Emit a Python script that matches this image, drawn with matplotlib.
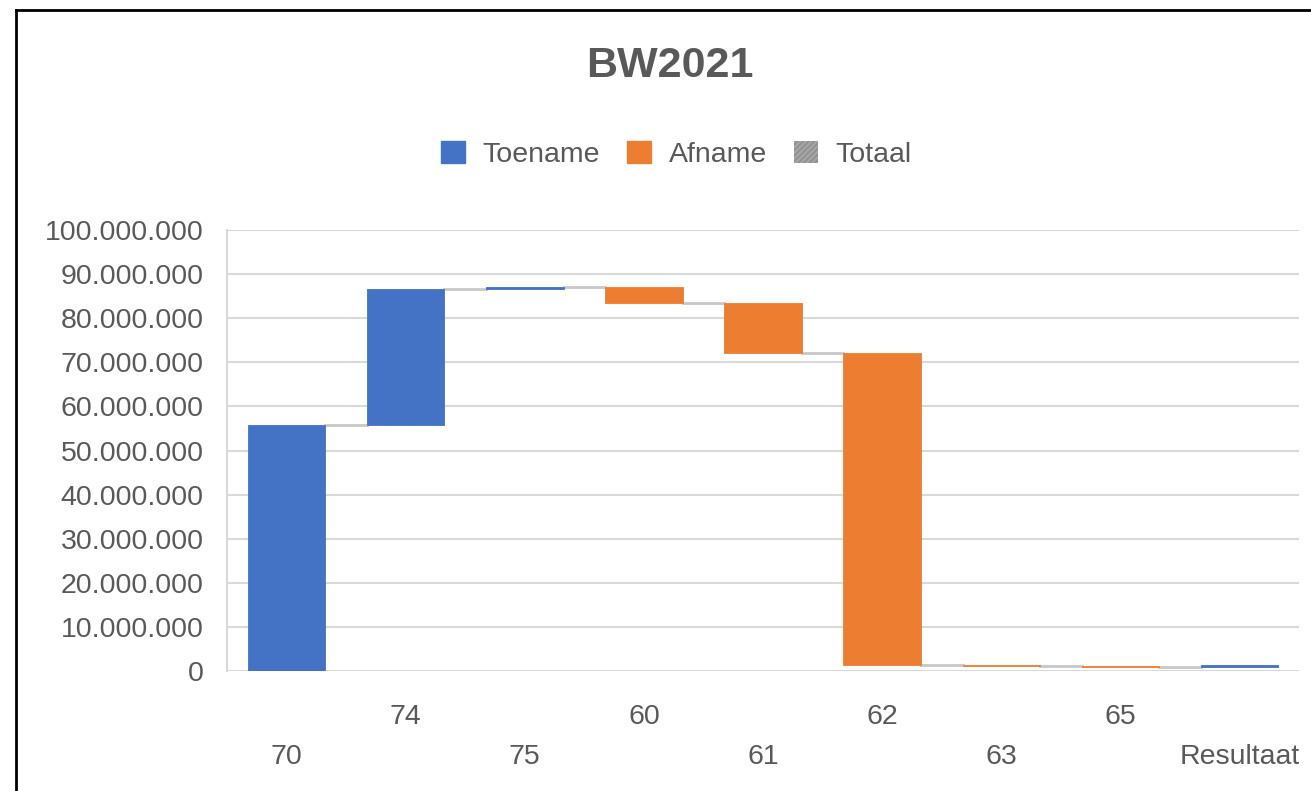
import numpy as np
import matplotlib
matplotlib.use('Agg')
import matplotlib.pyplot as plt
from matplotlib.patches import Patch
from matplotlib.lines import Line2D
from matplotlib.ticker import FuncFormatter, MultipleLocator

plt.rcParams['font.family'] = ['Liberation Sans', 'DejaVu Sans']

# data
categories = ['70', '74', '75', '60', '61', '62', '63', '65', 'Resultaat']
changes = [55.8e6, 30.9e6, 0.3e6, -3.5e6, -11.3e6, -70.9e6, -0.2e6, -0.1e6, 0.4e6]
legend_labels = ['Toename', 'Afname', 'Totaal']
title = 'BW2021'

c_up = '#4472C4'
c_down = '#ED7D31'
c_total = '#A5A5A5'
c_text = '#595959'
c_grid = '#D9D9D9'

changes = np.array(changes)
ends = np.cumsum(changes)
starts = ends - changes
x = np.arange(len(categories))
bottoms = np.minimum(starts, ends)
heights = np.abs(changes)
colors = [c_up if v >= 0 else c_down for v in changes]

fig = plt.figure(figsize=(13.11, 7.91), dpi=100)
ax = fig.add_axes([0.1732, 0.1517, 0.8177, 0.5575])

width = 0.65
ax.bar(x, heights, bottom=bottoms, width=width, color=colors,
       edgecolor=colors, linewidth=0.6, zorder=3)

# verbindingslijnen
for i in range(len(x) - 1):
    ax.plot([x[i] + width / 2, x[i + 1] - width / 2], [ends[i], ends[i]],
            color='#C8C8C8', lw=2, zorder=2)

ax.set_xlim(-0.5, len(x) - 0.5)
ax.set_ylim(0, 100e6)
ax.yaxis.set_major_locator(MultipleLocator(10e6))
ax.yaxis.set_major_formatter(FuncFormatter(lambda v, p: f'{int(round(v)):,}'.replace(',', '.')))
ax.grid(axis='y', color=c_grid, lw=1.5, zorder=0)
ax.set_axisbelow(True)
for s in ['top', 'right', 'bottom']:
    ax.spines[s].set_visible(False)
ax.spines['left'].set_color(c_grid)
ax.spines['left'].set_linewidth(1.5)
ax.tick_params(axis='y', length=0, pad=17, labelsize=20.5, labelcolor=c_text)
ax.tick_params(axis='x', length=0, labelbottom=False)
ax.set_xticks(x)

# categorie labels in twee rijen
tr = ax.get_xaxis_transform()
for i, lab in enumerate(categories):
    yy = -0.104 if i % 2 == 1 else -0.196
    ax.text(x[i], yy, lab, transform=tr, ha='center', va='center',
            fontsize=20.5, color=c_text)

fig.text(0.511, 0.917, title, ha='center', va='center', fontsize=31,
         fontweight='bold', color=c_text)

handles = [Patch(facecolor=c_up, edgecolor=c_up),
           Patch(facecolor=c_down, edgecolor=c_down),
           Patch(facecolor=c_total, edgecolor='#8C8C8C', hatch='//////', lw=0)]
fig.legend(handles, legend_labels, loc='center', bbox_to_anchor=(0.516, 0.805),
           ncol=3, frameon=False, fontsize=20.5, labelcolor=c_text,
           handlelength=0.84, handleheight=0.84, handletextpad=0.62,
           columnspacing=0.95)

# rand van de grafiek
fig.add_artist(Line2D([16 / 1311, 16 / 1311], [0, 1 - 10 / 791], color='black',
                      lw=2, transform=fig.transFigure))
fig.add_artist(Line2D([16 / 1311, 1], [1 - 10 / 791, 1 - 10 / 791], color='black',
                      lw=2, transform=fig.transFigure))

fig.savefig('out.png', dpi=100)
